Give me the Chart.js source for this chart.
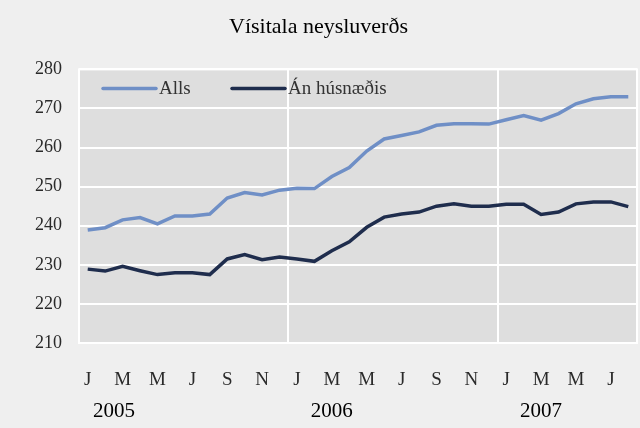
<!DOCTYPE html>
<html>
<head>
<meta charset="utf-8">
<script src="https://cdn.jsdelivr.net/npm/chart.js@4"></script>
<style>
  html, body { margin: 0; padding: 0; background: #efefef; }
  #wrap { width: 640px; height: 428px; }
</style>
</head>
<body>
<div id="wrap"><canvas id="chart" width="640" height="428"></canvas></div>
<script>
// Mánuðir jan 2005 - ágú 2007
const months = ['J','F','M','A','M','J','J','Á','S','O','N','D',
                'J','F','M','A','M','J','J','Á','S','O','N','D',
                'J','F','M','A','M','J','J','Á'];
const years = ['2005', '2006', '2007'];

const alls = [238.9, 239.5, 241.5, 242.1, 240.5, 242.5, 242.5, 243.0, 247.1, 248.5, 247.9, 249.1,
              249.6, 249.5, 252.6, 254.9, 259.1, 262.2, 263.1, 264.0, 265.7, 266.1, 266.1, 266.0,
              267.1, 268.2, 267.0, 268.7, 271.2, 272.5, 273.0, 273.0];
const anHusnaedis = [228.9, 228.4, 229.6, 228.5, 227.5, 228.0, 228.0, 227.5, 231.5, 232.6, 231.3, 232.0,
                     231.5, 230.9, 233.6, 235.9, 239.6, 242.2, 243.0, 243.5, 245.0, 245.6, 245.0, 245.0,
                     245.5, 245.5, 242.9, 243.5, 245.6, 246.1, 246.1, 244.9];

const serif = '"Liberation Serif", "DejaVu Serif", serif';
const textColor = '#2a2a2a';

// Bakgrunnur og rammi um teiknisvæðið
const plotBg = {
  id: 'plotBg',
  beforeDraw(chart) {
    const { ctx, chartArea: a } = chart;
    ctx.save();
    ctx.fillStyle = '#efefef';
    ctx.fillRect(0, 0, chart.width, chart.height);
    ctx.fillStyle = '#dedede';
    ctx.fillRect(a.left, a.top, a.right - a.left, a.bottom - a.top);
    ctx.restore();
  },
  afterDatasetsDraw(chart) {
    const { ctx, chartArea: a } = chart;
    ctx.save();
    ctx.strokeStyle = '#ffffff';
    ctx.lineWidth = 2;
    ctx.strokeRect(a.left, a.top, a.right - a.left, a.bottom - a.top);
    ctx.restore();
  }
};

// Skýringar inni í teiknisvæðinu, efst til vinstri
const innerLegend = {
  id: 'innerLegend',
  afterDraw(chart) {
    const { ctx, chartArea: a } = chart;
    const y = a.top + 19;
    let x = a.left + 24;
    ctx.save();
    ctx.font = '19px ' + serif;
    ctx.textBaseline = 'middle';
    ctx.lineCap = 'round';
    chart.data.datasets.forEach(ds => {
      ctx.strokeStyle = ds.borderColor;
      ctx.lineWidth = 3.5;
      ctx.beginPath();
      ctx.moveTo(x, y);
      ctx.lineTo(x + 53, y);
      ctx.stroke();
      ctx.fillStyle = '#333';
      ctx.fillText(ds.label, x + 56, y + 1);
      x += 129;
    });
    ctx.restore();
  }
};

// Ártöl undir mánaðarstöfunum
const yearRow = {
  id: 'yearRow',
  afterDraw(chart) {
    const { ctx } = chart;
    const x = chart.scales.x;
    ctx.save();
    ctx.font = '21px ' + serif;
    ctx.fillStyle = '#000';
    ctx.textAlign = 'center';
    ctx.textBaseline = 'middle';
    years.forEach((y, i) => {
      const idx = i === 0 ? 1.5 : i * 12 + 2;
      ctx.fillText(y, x.getPixelForValue(idx), chart.chartArea.bottom + 68);
    });
    ctx.restore();
  }
};

new Chart(document.getElementById('chart'), {
  type: 'line',
  data: {
    labels: months,
    datasets: [
      { label: 'Alls', data: alls, borderColor: '#6f8fc6', backgroundColor: '#6f8fc6',
        borderWidth: 3.5, pointRadius: 0, tension: 0 },
      { label: 'Án húsnæðis', data: anHusnaedis, borderColor: '#1f2d4d', backgroundColor: '#1f2d4d',
        borderWidth: 3.5, pointRadius: 0, tension: 0 }
    ]
  },
  options: {
    responsive: false,
    animation: false,
    layout: { padding: { left: 0, right: 3, top: 0, bottom: 0 } },
    plugins: {
      title: {
        display: true,
        text: 'Vísitala neysluverðs',
        color: '#000',
        font: { family: serif, size: 22, weight: 'normal' },
        padding: { top: 14, bottom: 29 }
      },
      legend: { display: false },
      tooltip: { enabled: false }
    },
    scales: {
      x: {
        offset: true,
        grid: {
          offset: true,
          drawTicks: true,
          tickLength: 24,
          tickColor: 'rgba(0,0,0,0)',
          lineWidth: 2,
          color: ctx => (ctx.index > 0 && ctx.index % 12 === 0) ? '#ffffff' : 'rgba(0,0,0,0)'
        },
        border: { display: false },
        ticks: {
          autoSkip: false,
          maxRotation: 0,
          padding: 2,
          color: textColor,
          font: { family: serif, size: 19 },
          callback: (v, i) => i % 2 === 0 ? months[i] : ''
        },
        afterFit: s => { s.height = 85; }
      },
      y: {
        min: 210,
        max: 280,
        grid: { color: '#ffffff', lineWidth: 2, drawTicks: false },
        border: { display: false },
        ticks: {
          stepSize: 10,
          padding: 17,
          color: textColor,
          font: { family: serif, size: 18 }
        },
        afterFit: s => { s.width = 79; }
      }
    }
  },
  plugins: [plotBg, innerLegend, yearRow]
});
</script>
</body>
</html>
